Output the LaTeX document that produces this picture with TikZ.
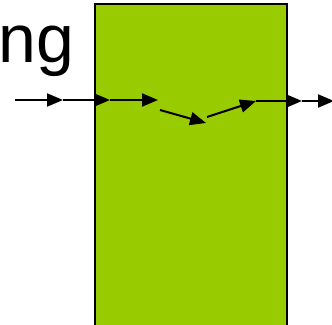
\documentclass[tikz,border=0pt]{standalone}
\usepackage{fontspec}
\setmainfont{Liberation Sans}
\usetikzlibrary{arrows.meta}
\definecolor{stagegreen}{HTML}{99CC00}
\begin{document}
\begin{tikzpicture}[x=1pt, y=-1pt, every node/.style={inner sep=0pt},
    flow/.style={-{Triangle[length=16pt,width=13pt]}, line width=2pt}]
    \useasboundingbox (0,0) rectangle (332,324);
    \clip (0,0) rectangle (332,324);

    \filldraw[fill=stagegreen, draw=black, line width=2pt] (95,4) rectangle (287,340);
    \node[anchor=base west, font=\fontsize{68}{68}\selectfont] (label) at (-2,62) {ng};

    \coordinate (in) at (15,100);
    \coordinate (a1) at (63,100);
    \coordinate (a2) at (110,100);
    \coordinate (a3) at (158,100);
    \coordinate (b0) at (160,110);
    \coordinate (b1) at (206,123);
    \coordinate (c0) at (207,117);
    \coordinate (c1) at (256,101);
    \coordinate (d1) at (302,101);
    \coordinate (out) at (334,101);

    \draw[flow] (in) -- (a1);
    \draw[flow] (a1) -- (a2);
    \draw[flow] (a2) -- (a3);
    \draw[flow] (b0) -- (b1);
    \draw[flow] (c0) -- (c1);
    \draw[flow] (c1) -- (d1);
    \draw[flow] (d1) -- (out);
\end{tikzpicture}
\end{document}
